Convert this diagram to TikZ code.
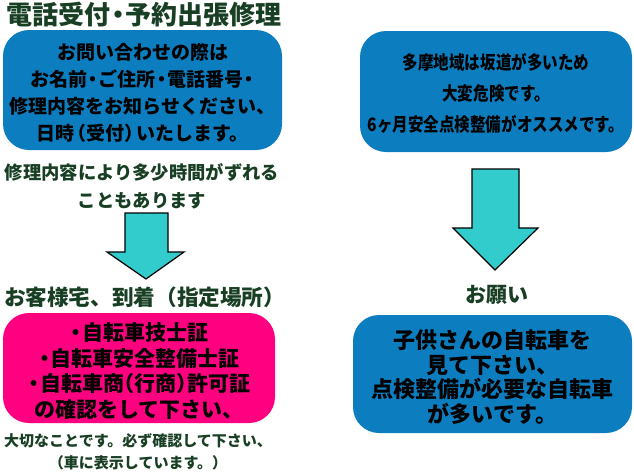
\documentclass[tikz,border=0pt]{standalone}
\usepackage{fontspec}
\setmainfont{Noto Sans CJK JP}
\newfontfamily\condfont[FakeStretch=0.84]{Noto Sans CJK JP}
\definecolor{boxblue}{RGB}{12,126,192}
\definecolor{boxpink}{RGB}{255,0,128}
\definecolor{headgreen}{RGB}{24,62,36}
\definecolor{arrowcyan}{RGB}{51,204,204}
\newcommand\ndot{\kern-0.2em・\kern-0.2em}
\newcommand\nlp{\kern-0.35em（}
\newcommand\nrp{）\kern-0.35em}
\newcommand\tlp{\kern-0.5em（}
\newcommand\trp{）\kern-0.5em}
\tikzset{
  infobox/.style={rounded corners=26pt, inner sep=0pt},
  boxtext/.style={inner sep=0pt, align=center, text=black},
  heading/.style={text=headgreen, inner sep=0pt, align=center},
  bigarrow/.style={draw=black, line width=1.2pt, fill=arrowcyan, line join=miter},
}
\begin{document}
\begin{tikzpicture}[x=1pt,y=-1pt]
\useasboundingbox (0,0) rectangle (634,474);
% left column
\node[heading, anchor=west, font={\fontsize{26}{28}\selectfont\bfseries}] (title) at (6,15) {電話受付\ndot 予約出張修理};
\node[infobox, fill=boxblue, minimum width=279pt, minimum height=120pt] (box1) at (142.5,90) {};
\node[boxtext, font={\fontsize{19}{27}\selectfont\bfseries}] (box1text) at ([yshift=-3pt]box1.center)
  {お問い合わせの際は\\お名前\ndot ご住所\ndot 電話番号\ndot\\修理内容をお知らせください、\\日時\nlp 受付\nrp いたします。};
\node[heading, font={\fontsize{18.3}{28}\selectfont\bfseries}] (note1) at (142,186)
  {修理内容により多少時間がずれる\\こともあります};
\draw[bigarrow] (125,213) -- (168,213) -- (168,252) -- (184,252) -- (146,279) -- (107,252) -- (125,252) -- cycle;
\node[heading, anchor=west, font={\fontsize{21.6}{24}\selectfont\bfseries}] (arrive) at (4,297) {お客様宅、到着（指定場所）};
\node[infobox, fill=boxpink, minimum width=272pt, minimum height=110pt] (box2) at (139,368) {};
\node[boxtext, font={\fontsize{21}{25.5}\selectfont\bfseries}] (box2text) at ([yshift=-3pt]box2.center)
  {\ndot 自転車技士証\\\ndot 自転車安全整備士証\\\ndot 自転車商\tlp 行商\trp 許可証\\の確認をして下さい、};
\node[heading, font={\fontsize{15}{22.5}\selectfont\bfseries}] (note2) at (138,452)
  {大切なことです。必ず確認して下さい、\\（車に表示しています。）};
% right column
\node[infobox, fill=boxblue, minimum width=272pt, minimum height=121pt] (box3) at (496,91.5) {};
\node[boxtext, font={\condfont\fontsize{18.5}{31}\selectfont\bfseries}] (box3text) at ([yshift=-2pt]box3.center)
  {多摩地域は坂道が多いため\\大変危険です。\\6ヶ月安全点検整備がオススメです。};
\draw[bigarrow] (472,169) -- (519,169) -- (519,228) -- (538,228) -- (495,270) -- (453,228) -- (472,228) -- cycle;
\node[heading, font={\fontsize{21}{24}\selectfont\bfseries}] (please) at (497,295) {お願い};
\node[infobox, fill=boxblue, minimum width=279pt, minimum height=118pt] (box4) at (492.5,374) {};
\node[boxtext, font={\fontsize{22}{24.5}\selectfont\bfseries}] (box4text) at ([yshift=-3pt]box4.center)
  {子供さんの自転車を\\見て下さい、\\点検整備が必要な自転車\\が多いです。};
\end{tikzpicture}
\end{document}
